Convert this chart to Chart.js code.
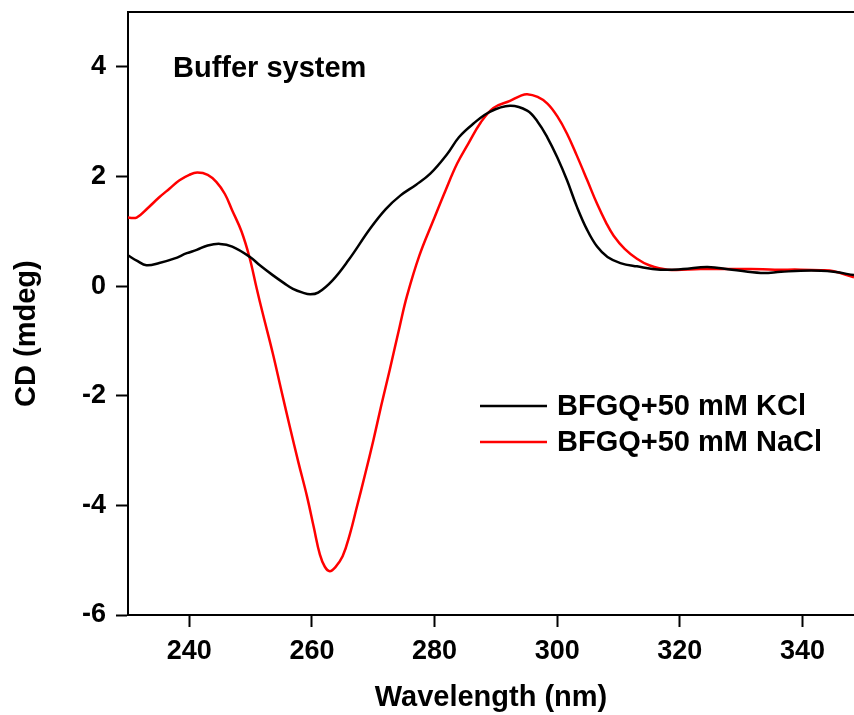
<!DOCTYPE html>
<html lang="en">
<head>
<meta charset="UTF-8">
<title>CD spectra - Buffer system</title>
<script src="https://cdn.jsdelivr.net/npm/chart.js"></script>
<style>
  html, body { margin: 0; padding: 0; background: #fff; }
</style>
</head>
<body>
<canvas id="cdChart" width="854" height="715"></canvas>
<script>
// wavelengths (nm) and CD (mdeg)
const kclWl = [230.0, 231.5, 233.0, 235.1, 237.5, 239.6, 241.2, 243.0, 245.0, 247.0, 249.9, 251.5, 253.6, 255.5,
  256.9, 258.5, 259.7, 261.0, 263.4, 266.0, 269.5, 272.0, 274.4, 277.0, 279.3, 282.0, 284.0, 286.3, 289.0, 292.3,
  295.1, 296.8, 298.4, 300.0, 301.6, 303.2, 304.9, 306.5, 308.2, 310.3, 313.0, 316.8, 320.5, 324.5, 328.5, 333.2,
  336.5, 339.7, 343.0, 345.1, 348.4];
const kclCd = [0.56, 0.46, 0.38, 0.42, 0.50, 0.60, 0.66, 0.74, 0.77, 0.72, 0.53, 0.38, 0.20, 0.05,
  -0.05, -0.12, -0.15, -0.12, 0.11, 0.48, 1.05, 1.40, 1.65, 1.85, 2.05, 2.40, 2.72, 2.96, 3.18, 3.29,
  3.20, 3.00, 2.71, 2.35, 1.93, 1.45, 1.02, 0.72, 0.53, 0.42, 0.36, 0.30, 0.31, 0.35, 0.30, 0.24,
  0.26, 0.28, 0.28, 0.26, 0.20];

const naclWl = [230.0, 231.4, 233.2, 235.1, 236.8, 238.4, 240.0, 241.3, 243.0, 244.4, 245.8, 247.0, 248.5, 249.8,
  251.0, 252.0, 253.6, 255.0, 256.4, 257.8, 259.2, 260.3, 261.3, 262.1, 262.9, 263.8, 265.0, 266.2, 267.3, 268.7,
  270.0, 271.3, 272.7, 274.3, 275.5, 277.5, 279.8, 281.8, 283.7, 285.5, 287.5, 289.6, 292.3, 294.0, 295.1, 296.8,
  298.4, 300.0, 301.6, 303.2, 304.9, 306.5, 308.0, 309.2, 311.0, 313.0, 315.0, 318.0, 323.4, 327.5, 331.6, 335.5,
  339.7, 343.0, 345.1, 348.4];
const naclCd = [1.25, 1.25, 1.42, 1.62, 1.78, 1.93, 2.03, 2.07, 2.03, 1.90, 1.68, 1.38, 1.00, 0.53,
  -0.05, -0.51, -1.22, -1.90, -2.57, -3.22, -3.84, -4.40, -4.90, -5.12, -5.20, -5.13, -4.93, -4.52, -4.04, -3.42,
  -2.82, -2.18, -1.52, -0.74, -0.18, 0.55, 1.20, 1.75, 2.24, 2.60, 2.98, 3.25, 3.38, 3.47, 3.50, 3.45,
  3.33, 3.10, 2.78, 2.38, 1.93, 1.50, 1.15, 0.92, 0.68, 0.50, 0.38, 0.30, 0.31, 0.31, 0.31, 0.30,
  0.30, 0.29, 0.27, 0.16];

const seriesLabels = ['BFGQ+50 mM KCl', 'BFGQ+50 mM NaCl'];
const seriesColors = ['#000000', '#ff0000'];
const annotationText = 'Buffer system';

const xTicks = [240, 260, 280, 300, 320, 340];
const yTicks = [-6, -4, -2, 0, 2, 4];

const FONT = "'Liberation Sans', Arial, sans-serif";

function toPoints(xs, ys) {
  return xs.map((x, i) => ({ x: x, y: ys[i] }));
}

// top frame line, text label and the legend inside the plot
const extras = {
  id: 'extras',
  afterDraw(chart) {
    const ctx = chart.ctx;
    const area = chart.chartArea;
    ctx.save();
    ctx.strokeStyle = '#000';
    ctx.lineWidth = 2;
    ctx.beginPath();
    ctx.moveTo(area.left - 1, area.top);
    ctx.lineTo(area.right, area.top);
    ctx.stroke();

    ctx.fillStyle = '#000';
    ctx.font = 'bold 29px ' + FONT;
    ctx.textBaseline = 'alphabetic';
    ctx.textAlign = 'left';
    ctx.fillText(annotationText, 173, 77);

    const lx = 480, ly = 406, gap = 36;
    chart.data.datasets.forEach((ds, i) => {
      const y = ly + i * gap;
      ctx.strokeStyle = ds.borderColor;
      ctx.lineWidth = 2.5;
      ctx.beginPath();
      ctx.moveTo(lx, y);
      ctx.lineTo(lx + 67, y);
      ctx.stroke();
      ctx.fillStyle = '#000';
      ctx.font = 'bold 29px ' + FONT;
      ctx.textBaseline = 'middle';
      ctx.fillText(ds.label, lx + 77, y + 1);
    });
    ctx.restore();
  }
};

const ctx = document.getElementById('cdChart').getContext('2d');
const cdChart = new Chart(ctx, {
  type: 'line',
  data: {
    datasets: [
      {
        label: seriesLabels[0],
        data: toPoints(kclWl, kclCd),
        borderColor: seriesColors[0],
        borderWidth: 2.5,
        pointRadius: 0,
        tension: 0.4,
        fill: false
      },
      {
        label: seriesLabels[1],
        data: toPoints(naclWl, naclCd),
        borderColor: seriesColors[1],
        borderWidth: 2.5,
        pointRadius: 0,
        tension: 0.4,
        fill: false
      }
    ]
  },
  options: {
    responsive: false,
    animation: false,
    devicePixelRatio: 1,
    layout: { padding: { top: 12, right: 0, left: 0, bottom: 0 } },
    plugins: {
      legend: { display: false },
      tooltip: { enabled: false }
    },
    scales: {
      x: {
        type: 'linear',
        min: 230,
        max: 348.4,
        afterFit(scale) {
          scale.height = 100;
          scale.paddingLeft = 0;
          scale.paddingRight = 0;
        },
        afterBuildTicks(scale) { scale.ticks = xTicks.map(v => ({ value: v })); },
        border: { display: true, color: '#000', width: 2 },
        grid: { drawOnChartArea: false, drawTicks: true, tickLength: 12, tickColor: '#000', tickWidth: 2 },
        ticks: {
          color: '#000',
          padding: 8,
          maxRotation: 0,
          font: { family: FONT, size: 27, weight: 'bold' }
        },
        title: {
          display: true,
          text: 'Wavelength (nm)',
          color: '#000',
          padding: { top: 0, bottom: 0 },
          font: { family: FONT, size: 29, weight: 'bold' }
        }
      },
      y: {
        type: 'linear',
        min: -6,
        max: 5,
        afterFit(scale) {
          scale.width = 128;
          scale.paddingTop = 0;
          scale.paddingBottom = 0;
        },
        afterBuildTicks(scale) { scale.ticks = yTicks.map(v => ({ value: v })); },
        border: { display: true, color: '#000', width: 2 },
        grid: { drawOnChartArea: false, drawTicks: true, tickLength: 12, tickColor: '#000', tickWidth: 2 },
        ticks: {
          color: '#000',
          padding: 10,
          font: { family: FONT, size: 27, weight: 'bold' }
        },
        title: {
          display: true,
          text: 'CD (mdeg)     ',
          color: '#000',
          padding: { top: 10, bottom: 0 },
          font: { family: FONT, size: 29, weight: 'bold' }
        }
      }
    }
  },
  plugins: [extras]
});
</script>
</body>
</html>
